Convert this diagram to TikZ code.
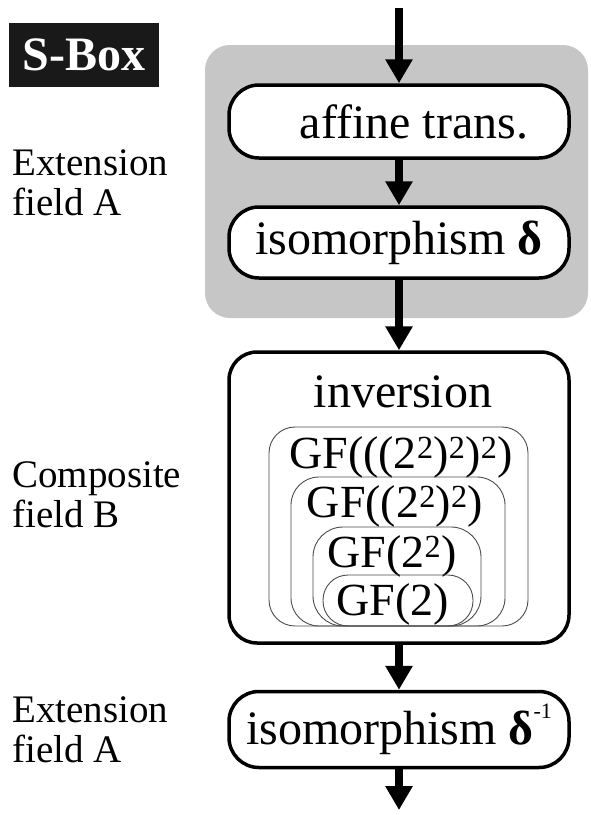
\documentclass[tikz,border=0pt]{standalone}
\usepackage{fontspec}
\setmainfont{Liberation Serif}
\usepackage{tikz}
\usetikzlibrary{arrows.meta}
\definecolor{fieldgray}{HTML}{C6C6C6}

\tikzset{
  stage/.style={draw,line width=3.5pt,rounded corners=30pt,fill=white,
    minimum width=340pt,inner sep=0pt,font=\fontsize{48}{52}\selectfont},
  flow/.style={-{Triangle[width=26pt,length=24pt]},line width=8pt},
  fieldlabel/.style={anchor=west,align=left,inner sep=0pt,
    font=\fontsize{39}{40}\selectfont},
  gfbox/.style={draw=black!70,line width=0.9pt},
}

\begin{document}
\begin{tikzpicture}[x=1pt,y=-1pt]
    \useasboundingbox (0,0) rectangle (590,815);

    % Title tag.
    \node[fill=black!90,text=white,minimum width=150pt,minimum height=64pt,
      inner sep=0pt,font=\fontsize{48}{52}\selectfont\bfseries] (sbox) at (84,55) {S-Box};

    % Extension field A: gray panel behind the first two stages.
    \fill[fieldgray,rounded corners=25pt] (205,45) rectangle (588,318);
    \node[stage,minimum height=73pt] (affine) at (399,121.5) {\hspace*{30pt}affine trans.};
    \node[stage,minimum height=71pt] (iso) at (399,242.5) {isomorphism \textbf{δ}};

    % Composite field B: inversion over the tower of subfields.
    \node[stage,minimum height=291pt,rounded corners=28pt] (inv) at (399,497.5) {};
    \node[anchor=base,font=\fontsize{48}{52}\selectfont] (invtext) at (403,407) {inversion};
    \foreach \gfname/\xa/\ya/\xb/\r/\tx/\base/\gftext in {
        gfeight/269/427/528/26/401/468/{GF(((2\textsuperscript{2})\textsuperscript{2})\textsuperscript{2})},
        gffour/291/477/505/28/395/517/{GF((2\textsuperscript{2})\textsuperscript{2})},
        gftwo/313/527/481/30/392/567/{GF(2\textsuperscript{2})},
        gfone/323/575/473/25/393/615/{GF(2)}} {
      \draw[gfbox,rounded corners=\r pt] (\xa,\ya) rectangle (\xb,626);
      \node[anchor=base,inner sep=0pt,font=\fontsize{46}{50}\selectfont]
        (\gfname) at (\tx,\base) {\gftext};
    }

    % Back to field A.
    \node[stage,minimum height=76pt] (isoinv) at (399,729.5)
      {isomorphism \textbf{δ}\raisebox{0.55em}{\fontsize{22}{22}\selectfont -1}};

    % Data path through the S-box.
    \coordinate (in) at (399,8);
    \coordinate (out) at (399,810);
    \draw[flow] (in) -- (affine);
    \draw[flow] (affine) -- (iso);
    \draw[flow] (iso) -- (inv);
    \draw[flow] (inv) -- (isoinv);
    \draw[flow] (isoinv) -- (out);

    % Field names on the left.
    \node[fieldlabel] (fieldtop) at (12,182.5) {Extension\\field A};
    \node[fieldlabel] (fieldmid) at (12,495) {Composite\\field B};
    \node[fieldlabel] (fieldbot) at (12,729.5) {Extension\\field A};
\end{tikzpicture}
\end{document}
